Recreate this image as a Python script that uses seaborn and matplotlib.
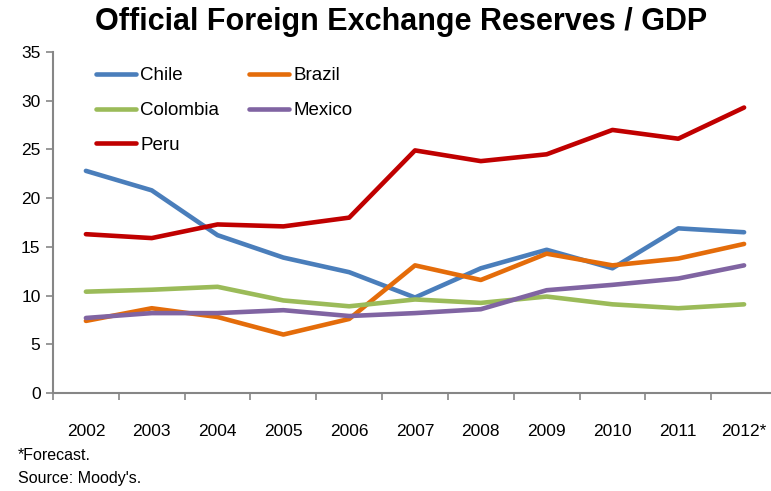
import matplotlib
matplotlib.use("Agg")
import matplotlib.pyplot as plt
import seaborn as sns
import pandas as pd

years = ["2002", "2003", "2004", "2005", "2006", "2007", "2008", "2009", "2010", "2011", "2012*"]
chile = [22.8, 20.8, 16.2, 13.9, 12.4, 9.8, 12.8, 14.7, 12.8, 16.9, 16.5]
brazil = [7.4, 8.7, 7.8, 6.0, 7.6, 13.1, 11.6, 14.3, 13.1, 13.8, 15.3]
colombia = [10.4, 10.6, 10.9, 9.5, 8.9, 9.6, 9.25, 9.9, 9.1, 8.7, 9.1]
mexico = [7.7, 8.2, 8.2, 8.5, 7.9, 8.2, 8.6, 10.55, 11.1, 11.75, 13.1]
peru = [16.3, 15.9, 17.3, 17.1, 18.0, 24.9, 23.8, 24.5, 27.0, 26.1, 29.3]

countries = ["Chile", "Brazil", "Colombia", "Mexico", "Peru"]
colors = ["#4A7EBB", "#E46C0A", "#9BBB59", "#8064A2", "#C00000"]

series = dict(zip(countries, [chile, brazil, colombia, mexico, peru]))
df = pd.DataFrame(
    [(i, c, v) for c, vals in series.items() for i, v in enumerate(vals)],
    columns=["pos", "country", "value"],
)

sns.set_theme(style="white")
plt.rcParams["font.family"] = ["Liberation Sans", "DejaVu Sans"]
plt.rcParams["text.color"] = "black"

fig = plt.figure(figsize=(7.71, 4.91), dpi=100)
W, H = 771, 491
# axes spans the category band; right edge runs past the canvas
left, right, top, bottom = 53, 777, 52, 393
ax = fig.add_axes([left / W, 1 - bottom / H, (right - left) / W, (bottom - top) / H])

sns.lineplot(
    data=df, x="pos", y="value", hue="country", hue_order=countries,
    palette=colors, linewidth=3.3, ax=ax, legend=False, sort=False,
)
for line in ax.lines:
    line.set_solid_capstyle("round")
    line.set_solid_joinstyle("round")

ax.set_xlim(-0.5, len(years) - 0.5)
ax.set_ylim(0, 35)
ax.set_yticks(range(0, 36, 5))
ax.set_xticks(range(len(years)))
ax.set_xticklabels(years)
ax.set_xticks([i - 0.5 for i in range(len(years) + 1)], minor=True)
ax.set_xlabel("")
ax.set_ylabel("")

grey = "#868686"
for s in ["top", "right"]:
    ax.spines[s].set_visible(False)
for s in ["left", "bottom"]:
    ax.spines[s].set_color(grey)
    ax.spines[s].set_linewidth(1.5)

ax.tick_params(axis="y", which="major", direction="out", length=5, width=1.2,
               color=grey, left=True, labelsize=12.5, labelcolor="black", pad=4)
ax.tick_params(axis="x", which="major", length=0, labelsize=12.5,
               labelcolor="black", pad=22)
ax.tick_params(axis="x", which="minor", direction="out", length=5, width=1.2,
               color=grey, bottom=True)

# legend: two columns, filled column by column
handles = {c: plt.Line2D([], [], color=col, linewidth=3.3, solid_capstyle="round")
           for c, col in zip(countries, colors)}
order = ["Chile", "Colombia", "Peru", "Brazil", "Mexico"]
leg = fig.legend(
    [handles[c] for c in order], order, ncol=2, loc="upper left",
    bbox_to_anchor=(96 / W, 1 - 67 / H), frameon=False, fontsize=13.5,
    handlelength=2.15, handletextpad=0.2, columnspacing=1.6,
    labelspacing=0.95, borderpad=0, borderaxespad=0,
)
for t in leg.get_texts():
    t.set_color("black")

fig.text(0.52, 1 - 22 / H, "Official Foreign Exchange Reserves / GDP",
         ha="center", va="center", fontsize=22, fontweight="bold", color="black")
fig.text(18 / W, 1 - 455 / H, "*Forecast.", ha="left", va="center", fontsize=11.5)
fig.text(18 / W, 1 - 478 / H, "Source: Moody's.", ha="left", va="center", fontsize=11.5)

fig.savefig("out.png", dpi=100)
